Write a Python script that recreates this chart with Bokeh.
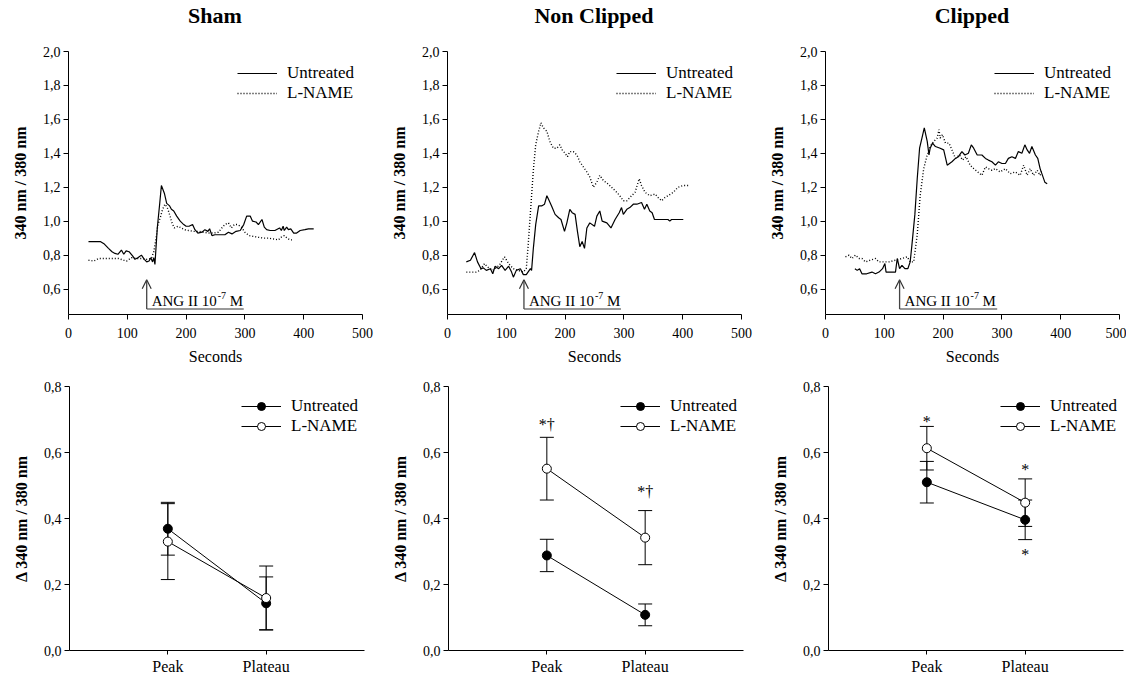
from bokeh.plotting import figure
from bokeh.layouts import row, column
from bokeh.models import (ColumnDataSource, Whisker, TeeHead, Arrow, OpenHead, Range1d,
                          FixedTicker, CustomJSTickFormatter, Div)
from bokeh.core.properties import value
from bokeh.embed import file_html
from bokeh.resources import INLINE

FONT = "Liberation Serif"
GROUPS = ["Sham", "Non Clipped", "Clipped"]
SERIES = ["Untreated", "L-NAME"]
PHASES = ["Peak", "Plateau"]

# ---------- time courses (seconds, 340/380 ratio) ----------
SHAM_U_T = [34,54,61,68,74,79,84,90,94,98,103,109,113,118,124,129,133,137,140,143,
            145,147,151,155,158,163,167,172,175,179,184,190,196,200,205,211,215,220,227,232,
            237,240,244,249,258,266,272,278,285,292,298,303,309,313,319,323,329,333,337,343,
            351,359,362,365,367,371,374,378,383,388,394,402,408,417]
SHAM_U_V = [0.88,0.88,0.865,0.84,0.82,0.81,0.805,0.83,0.805,0.825,0.82,0.795,0.775,0.785,0.80,0.775,0.76,0.765,0.785,0.76,
            0.785,0.745,0.96,1.10,1.21,1.165,1.105,1.09,1.07,1.06,1.03,1.00,0.98,0.97,0.97,0.98,0.95,0.93,0.935,0.95,
            0.94,0.955,0.915,0.92,0.92,0.92,0.935,0.925,0.94,0.945,0.98,1.03,1.03,1.00,0.995,0.98,1.01,0.965,0.95,0.945,
            0.945,0.96,0.945,0.97,0.945,0.965,0.95,0.955,0.93,0.93,0.945,0.95,0.955,0.955]
SHAM_L_T = [34,43,51,62,74,85,94,99,107,116,125,133,141,145,149,152,156,160,164,168,
            171,176,180,186,192,197,204,213,221,230,238,247,255,262,266,272,277,282,288,294,
            300,307,315,323,332,340,349,357,363,367,372,377,381]
SHAM_L_V = [0.77,0.765,0.78,0.78,0.78,0.78,0.77,0.765,0.785,0.78,0.78,0.775,0.78,0.82,0.90,0.98,1.02,1.07,1.10,1.08,
            1.05,0.99,0.96,0.97,0.96,0.95,0.945,0.94,0.94,0.935,0.93,0.93,0.935,0.965,0.98,0.99,0.96,0.98,0.98,0.965,
            0.935,0.915,0.91,0.905,0.90,0.90,0.895,0.89,0.91,0.915,0.90,0.89,0.89]

NC_U_T = [32,39,46,51,57,61,66,73,77,81,87,92,98,104,109,112,117,124,129,134,
          141,143,146,150,155,160,165,169,173,177,183,189,193,199,203,208,212,217,221,225,
          229,233,237,242,250,254,259,263,271,278,285,292,296,299,305,310,316,322,330,335,
          339,344,348,352,375,378,381,401]
NC_U_V = [0.76,0.77,0.815,0.76,0.72,0.725,0.71,0.72,0.69,0.735,0.72,0.74,0.71,0.735,0.70,0.67,0.71,0.72,0.685,0.685,
          0.72,0.71,0.84,0.98,1.09,1.09,1.10,1.15,1.12,1.09,1.04,1.02,1.01,0.94,0.99,1.07,1.05,1.04,0.94,0.85,
          0.88,0.84,0.96,0.99,0.97,1.03,1.06,1.00,0.99,0.96,1.01,1.05,1.08,1.04,1.07,1.08,1.10,1.10,1.11,1.07,
          1.10,1.06,1.05,1.01,1.01,1.00,1.01,1.01]
NC_L_T = [32,49,55,63,68,77,88,97,104,112,120,129,134,137,142,146,150,155,159,163,
          169,174,180,186,191,195,200,204,208,214,220,225,231,237,242,248,254,259,265,273,
          282,288,293,299,305,313,319,326,330,336,344,353,358,364,370,375,384,392,401,412]
NC_L_V = [0.70,0.70,0.71,0.75,0.73,0.71,0.74,0.79,0.75,0.72,0.71,0.70,0.72,0.85,1.10,1.30,1.45,1.53,1.58,1.55,
          1.53,1.47,1.43,1.43,1.45,1.42,1.40,1.38,1.41,1.41,1.39,1.35,1.32,1.29,1.26,1.20,1.23,1.27,1.24,1.22,
          1.19,1.17,1.15,1.12,1.12,1.15,1.17,1.25,1.21,1.17,1.15,1.16,1.14,1.12,1.14,1.15,1.17,1.20,1.21,1.21]

CL_U_T = [50,54,58,62,70,79,85,91,97,101,103,119,122,126,130,135,140,144,147,152,
          156,160,164,168,173,176,178,182,187,195,201,207,215,221,226,232,237,243,248,252,
          258,266,272,277,283,289,294,300,306,311,317,323,328,334,339,343,347,351,357,361,
          365,369,373,377]
CL_U_V = [0.72,0.71,0.72,0.69,0.69,0.70,0.69,0.70,0.72,0.75,0.70,0.70,0.78,0.72,0.74,0.72,0.72,0.76,0.86,1.04,
          1.25,1.43,1.49,1.55,1.47,1.39,1.43,1.46,1.44,1.43,1.42,1.33,1.35,1.37,1.38,1.41,1.39,1.40,1.45,1.43,
          1.39,1.39,1.37,1.36,1.35,1.33,1.35,1.34,1.34,1.37,1.38,1.37,1.41,1.40,1.45,1.42,1.40,1.44,1.39,1.37,
          1.31,1.27,1.23,1.22]
CL_L_T = [34,40,45,51,57,62,68,76,85,91,99,108,119,130,139,144,150,156,161,167,
          173,178,184,190,193,195,199,204,210,215,221,228,233,239,246,252,259,266,272,277,
          283,289,297,306,314,323,331,337,343,348,354,360,365,368]
CL_L_V = [0.79,0.80,0.78,0.80,0.78,0.78,0.76,0.77,0.78,0.76,0.76,0.76,0.77,0.78,0.79,0.76,0.76,0.92,1.15,1.31,
          1.39,1.44,1.47,1.49,1.54,1.49,1.51,1.46,1.46,1.42,1.37,1.39,1.36,1.38,1.33,1.31,1.29,1.27,1.32,1.31,
          1.30,1.31,1.29,1.31,1.28,1.29,1.27,1.33,1.27,1.31,1.27,1.30,1.27,1.30]

# ANG II application: arrow time and end of horizontal bar (seconds)
ANG_X = [133, 130, 126]
ANG_END = [298, 295, 292]

# ---------- summary (delta 340/380) ----------
SUM_U = [[0.369, 0.143], [0.288, 0.108], [0.510, 0.396]]
SUM_U_ERR = [[0.080, 0.080], [0.049, 0.033], [0.063, 0.060]]
SUM_L = [[0.330, 0.159], [0.551, 0.342], [0.613, 0.448]]
SUM_L_ERR = [[0.115, 0.097], [0.095, 0.082], [0.066, 0.072]]
SIG_TEXT = [[], ["*†", "*†"], ["*", "*", "*"]]
SIG_X = [[], [1, 2], [1, 2, 2]]
SIG_Y = [[], [0.685, 0.482], [0.695, 0.548, 0.29]]

TIME = [(SHAM_U_T, SHAM_U_V, SHAM_L_T, SHAM_L_V),
        (NC_U_T, NC_U_V, NC_L_T, NC_L_V),
        (CL_U_T, CL_U_V, CL_L_T, CL_L_V)]

WIDTHS = [385, 379, 362]
TOP_LEFT = [68, 62, 61]
BOT_LEFT = [69, 63, 64]
TOP_FRAME_W = 294
BOT_FRAME_W = 295
TITLE_H = 30

comma_fmt = CustomJSTickFormatter(code="return tick.toFixed(1).replace('.', ',');")


def style(p, xlabel_size="14px"):
    p.xgrid.visible = False
    p.ygrid.visible = False
    p.outline_line_color = None
    for ax in (p.xaxis[0], p.yaxis[0]):
        ax.axis_line_color = "black"
        ax.axis_line_width = 1
        ax.major_tick_line_color = "black"
        ax.minor_tick_line_color = None
        ax.major_tick_out = 5
        ax.major_tick_in = 0
        ax.major_label_text_font = FONT
        ax.major_label_text_color = "black"
        ax.major_label_standoff = 3
        ax.axis_label_text_font = FONT
        ax.axis_label_text_color = "black"
    p.xaxis[0].major_label_text_font_size = xlabel_size
    p.yaxis[0].major_label_text_font_size = "14px"
    p.yaxis[0].axis_label_text_font_size = "16px"
    p.yaxis[0].axis_label_text_font_style = "bold"
    p.yaxis[0].axis_label_standoff = 11
    p.yaxis[0].formatter = comma_fmt


def style_legend(p, loc):
    lg = p.legend[0]
    lg.location = loc
    lg.border_line_color = None
    lg.background_fill_alpha = 0
    lg.label_text_font = FONT
    lg.label_text_font_size = "17px"
    lg.label_text_color = "black"
    lg.glyph_width = 40
    lg.glyph_height = 20
    lg.label_height = 20
    lg.label_standoff = 10
    lg.spacing = 0
    lg.padding = 5
    lg.margin = 0


titles = []
tops = []
bots = []
for i in range(3):
    tu, vu, tl, vl = TIME[i]
    w = WIDTHS[i]
    titles.append(Div(
        text=(f'<div style="margin-left:{TOP_LEFT[i]}px;width:{TOP_FRAME_W}px;text-align:center;'
              f'font-family:\'{FONT}\';font-weight:bold;font-size:22px;line-height:30px;color:black;'
              f'padding-top:1px">{GROUPS[i]}</div>'),
        width=w, height=TITLE_H, margin=0))

    p = figure(width=w, height=342, x_range=Range1d(0, 500), y_range=Range1d(0.45, 2.0),
               output_backend="svg", toolbar_location=None,
               min_border_left=TOP_LEFT[i], min_border_right=w - TOP_LEFT[i] - TOP_FRAME_W,
               min_border_top=21, min_border_bottom=58)
    p.line(tu, vu, line_color="black", line_width=1.2, legend_label=SERIES[0])
    p.line(tl, vl, line_color="black", line_width=1.4, line_dash="1 2", legend_label=SERIES[1])
    # ANG II marker
    p.segment(x0=[ANG_X[i]], y0=[0.482], x1=[ANG_END[i]], y1=[0.482], line_color="#777777", line_width=1.5)
    p.add_layout(Arrow(end=OpenHead(size=9, line_color="#333333", line_width=1.2),
                       x_start=ANG_X[i], y_start=0.482, x_end=ANG_X[i], y_end=0.655,
                       line_color="#444444", line_width=1.3))
    p.text(x=[ANG_X[i]], y=[0.53], text=["ANG II 10"], x_offset=5, text_font=value(FONT),
           text_font_size="15px", text_baseline="middle", text_color="black")
    p.text(x=[ANG_X[i]], y=[0.53], text=["-7"], x_offset=71, y_offset=-5, text_font=value(FONT),
           text_font_size="10px", text_baseline="middle", text_color="black")
    p.text(x=[ANG_X[i]], y=[0.53], text=["M"], x_offset=83, text_font=value(FONT),
           text_font_size="15px", text_baseline="middle", text_color="black")
    style(p)
    p.xaxis[0].ticker = FixedTicker(ticks=[0, 100, 200, 300, 400, 500])
    p.xaxis[0].major_label_standoff = 8
    p.yaxis[0].ticker = FixedTicker(ticks=[0.6, 0.8, 1.0, 1.2, 1.4, 1.6, 1.8, 2.0])
    p.xaxis[0].axis_label = "Seconds"
    p.xaxis[0].axis_label_text_font_size = "16px"
    p.xaxis[0].axis_label_text_font_style = "normal"
    p.xaxis[0].axis_label_standoff = 7
    p.yaxis[0].axis_label = "340 nm / 380 nm"
    style_legend(p, (169, 211))
    tops.append(p)

    # summary panel
    q = figure(width=w, height=306, x_range=Range1d(0, 3), y_range=Range1d(0, 0.8),
               output_backend="svg", toolbar_location=None,
               min_border_left=BOT_LEFT[i], min_border_right=w - BOT_LEFT[i] - BOT_FRAME_W,
               min_border_top=14, min_border_bottom=28)
    xs = [1, 2]
    for vals, errs, fill, name in ((SUM_U[i], SUM_U_ERR[i], "black", SERIES[0]),
                                   (SUM_L[i], SUM_L_ERR[i], "white", SERIES[1])):
        src = ColumnDataSource(dict(x=xs, y=vals,
                                    upper=[v + e for v, e in zip(vals, errs)],
                                    lower=[v - e for v, e in zip(vals, errs)]))
        q.add_layout(Whisker(source=src, base="x", upper="upper", lower="lower", dimension="height",
                             line_color="black", line_width=1, level="underlay",
                             upper_head=TeeHead(size=14, line_color="black", line_width=1),
                             lower_head=TeeHead(size=14, line_color="black", line_width=1)))
        q.line("x", "y", source=src, line_color="black", line_width=1, legend_label=name)
        q.scatter("x", "y", source=src, size=9, fill_color=fill, line_color="black",
                  line_width=1, legend_label=name)
    if SIG_TEXT[i]:
        q.text(x=SIG_X[i], y=SIG_Y[i], text=SIG_TEXT[i], text_font=value(FONT), text_font_size="16px",
               text_align="center", text_baseline="middle", text_color="black")
    style(q, xlabel_size="16px")
    q.xaxis[0].ticker = FixedTicker(ticks=[1, 2])
    q.xaxis[0].major_label_overrides = {1: PHASES[0], 2: PHASES[1]}
    q.xaxis[0].major_tick_out = 4
    q.yaxis[0].ticker = FixedTicker(ticks=[0.0, 0.2, 0.4, 0.6, 0.8])
    q.yaxis[0].axis_label = "Δ 340 nm / 380 nm"
    style_legend(q, (172, 214))
    bots.append(q)

layout = column(row(*titles), row(*tops), row(*bots))
open("out.html", "w").write(file_html(layout, INLINE))
